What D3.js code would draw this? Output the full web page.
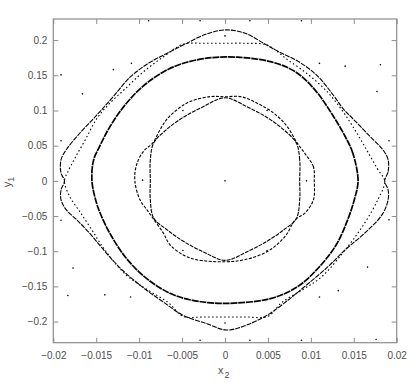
<!DOCTYPE html>
<html>
<head>
<meta charset="utf-8">
<script src="https://cdn.jsdelivr.net/npm/d3@7"></script>
<style>
  body { margin: 0; background: #fff; }
  svg { display: block; }
  .tick text { font-family: "Liberation Sans", Arial, sans-serif; font-size: 10px; fill: #4d4d4d; }
  .tick line { stroke: #8c8c8c; }
  .title { font-family: "Liberation Sans", Arial, sans-serif; font-size: 11px; fill: #4d4d4d; }
</style>
</head>
<body>
<svg id="chart" width="409" height="382"></svg>
<script>
;(function (window, d3) {
  'use strict';

  // tick values
  var xTicks = [-0.02, -0.015, -0.01, -0.005, 0, 0.005, 0.01, 0.015, 0.02];
  var yTicks = [-0.2, -0.15, -0.1, -0.05, 0, 0.05, 0.1, 0.15, 0.2];

  // middle ring (dense orbit)
  var ringC = [
    [0.0155, 0], [0.0149, 0.039], [0.0140, 0.063], [0.0124, 0.096], [0.0105, 0.129],
    [0.0082, 0.155], [0.0054, 0.169], [0.0015, 0.1757], [-0.0023, 0.174], [-0.0060, 0.162],
    [-0.0091, 0.139], [-0.0115, 0.110], [-0.0134, 0.077], [-0.0146, 0.049], [-0.0153, 0.030],
    [-0.0155, 0], [-0.0150, -0.030], [-0.0144, -0.050], [-0.0133, -0.077], [-0.0115, -0.110],
    [-0.0090, -0.140], [-0.0058, -0.163], [-0.0020, -0.173], [0.0015, -0.1735], [0.0054, -0.167],
    [0.0085, -0.150], [0.0110, -0.122], [0.0130, -0.090], [0.0143, -0.055], [0.0151, -0.025]
  ];

  // outer wavy orbit
  var outerD = [
    [0.0186, 0], [0.0190, 0.013], [0.0190, 0.030], [0.0184, 0.044], [0.0169, 0.063],
    [0.0150, 0.087], [0.0138, 0.102], [0.0126, 0.122], [0.0107, 0.150], [0.0085, 0.170],
    [0.0065, 0.182], [0.0047, 0.194], [0.0025, 0.209], [0.0002, 0.2145], [-0.0021, 0.209],
    [-0.0047, 0.194], [-0.0068, 0.181], [-0.0088, 0.168], [-0.0110, 0.148], [-0.0130, 0.120],
    [-0.0143, 0.102], [-0.0155, 0.086], [-0.0169, 0.068], [-0.0185, 0.044], [-0.0191, 0.030],
    [-0.0191, 0.011], [-0.0187, 0], [-0.0191, -0.013], [-0.0191, -0.027], [-0.0185, -0.041],
    [-0.0173, -0.055], [-0.0158, -0.074], [-0.0140, -0.100], [-0.0122, -0.124], [-0.0095, -0.152],
    [-0.0072, -0.172], [-0.0049, -0.191], [-0.0021, -0.203], [0.0002, -0.212], [0.0025, -0.205],
    [0.0049, -0.191], [0.0074, -0.169], [0.0093, -0.150], [0.0120, -0.122], [0.0140, -0.098],
    [0.0163, -0.074], [0.0183, -0.048], [0.0190, -0.027], [0.0190, -0.013]
  ];

  // outer sparse orbit (flat top / bottom)
  var outerE = [
    [0.0186, 0], [0.0178, 0.016], [0.0165, 0.044], [0.0150, 0.075], [0.0136, 0.101],
    [0.0118, 0.128], [0.0097, 0.151], [0.0073, 0.172], [0.0049, 0.193], [0.0025, 0.1955],
    [0, 0.1955], [-0.0025, 0.1955], [-0.0049, 0.194], [-0.0072, 0.176], [-0.0096, 0.154],
    [-0.0117, 0.130], [-0.0136, 0.108], [-0.0149, 0.089], [-0.0162, 0.060], [-0.0174, 0.034],
    [-0.0183, 0.013], [-0.0187, 0], [-0.0181, -0.022], [-0.0169, -0.044], [-0.0155, -0.070],
    [-0.0140, -0.098], [-0.0115, -0.134], [-0.0090, -0.155], [-0.0066, -0.173], [-0.0049, -0.1925],
    [-0.0025, -0.1935], [0, -0.1935], [0.0025, -0.1935], [0.0050, -0.1925], [0.0066, -0.173],
    [0.0090, -0.155], [0.0113, -0.136], [0.0140, -0.098], [0.0160, -0.065], [0.0178, -0.027]
  ];

  // inner round orbit
  var innerA = [
    [0.0104, 0], [0.0103, 0.020], [0.0093, 0.039], [0.0084, 0.054], [0.0072, 0.078],
    [0.0056, 0.097], [0.0038, 0.110], [0.0019, 0.1195], [0, 0.1195], [-0.0017, 0.1197],
    [-0.0041, 0.1126], [-0.0056, 0.101], [-0.0068, 0.087], [-0.0076, 0.072], [-0.0084, 0.054],
    [-0.0095, 0.042], [-0.0103, 0.023], [-0.0105, 0], [-0.0099, -0.027], [-0.0091, -0.041],
    [-0.0084, -0.053], [-0.0072, -0.074], [-0.0064, -0.091], [-0.0049, -0.105], [-0.0033, -0.112],
    [0, -0.115], [0.0023, -0.112], [0.0050, -0.100], [0.0070, -0.079], [0.0082, -0.055],
    [0.0093, -0.046], [0.0103, -0.027]
  ];

  // inner pointed orbit
  var innerB = [
    [0.0087, 0], [0.0087, 0.030], [0.0083, 0.054], [0.0068, 0.073], [0.0049, 0.090],
    [0.0026, 0.105], [0, 0.118], [-0.0026, 0.105], [-0.0049, 0.090], [-0.0068, 0.073],
    [-0.0083, 0.054], [-0.0087, 0.030], [-0.0087, 0], [-0.0087, -0.027], [-0.0083, -0.053],
    [-0.0067, -0.070], [-0.0047, -0.087], [-0.0025, -0.101], [0, -0.113], [0.0027, -0.100],
    [0.0050, -0.085], [0.0068, -0.070], [0.0083, -0.054], [0.0087, -0.027]
  ];

  // stray points
  var stray = [
    [-0.0191, 0.1506], [-0.0166, 0.1236], [-0.0130, 0.158], [-0.0109, 0.167], [-0.0191, 0.057],
    [-0.0096, 0.001], [-0.0049, 0.100], [0.0110, 0.167], [0.0140, 0.163], [0.0181, 0.165],
    [0.0177, 0.127], [0.0191, 0.057], [0, 0], [0.0095, 0.0], [0.0049, 0.100],
    [-0.0191, -0.056], [-0.0177, -0.124], [-0.0183, -0.163], [-0.0140, -0.162], [-0.0110, -0.165],
    [-0.0049, -0.099], [0.0049, -0.099], [0.0166, -0.1226], [0.0132, -0.156], [0.0110, -0.165],
    [0.0191, -0.0554], [0, -0.202], [0, 0.206], [-0.0089, 0.2275], [-0.0029, 0.2275],
    [0.0029, 0.2275], [0.0089, 0.2275], [-0.0029, -0.2265], [0.0029, -0.2265], [0.0089, -0.2265],
    [0.0176, -0.2255]
  ];

  var left = 53.3, right = 396.7, top = 19, bottom = 342.7;

  var x = d3.scaleLinear().domain([-0.02, 0.02]).range([left, right]);
  var y = d3.scaleLinear().domain([-0.23, 0.23]).range([bottom, top]);

  var svg = d3.select("#chart");

  var fmt = function (d) { return d3.format("")(+d.toFixed(3)); };

  // axes, ticks pointing inward on all four sides
  svg.append("g")
    .attr("transform", "translate(0," + bottom + ")")
    .call(d3.axisBottom(x).tickValues(xTicks).tickSizeInner(-5).tickSizeOuter(0).tickPadding(9).tickFormat(fmt));
  svg.append("g")
    .attr("transform", "translate(0," + top + ")")
    .call(d3.axisTop(x).tickValues(xTicks).tickSizeInner(-5).tickSizeOuter(0).tickFormat(""));
  svg.append("g")
    .attr("transform", "translate(" + left + ",0)")
    .call(d3.axisLeft(y).tickValues(yTicks).tickSizeInner(-5).tickSizeOuter(0).tickPadding(6).tickFormat(fmt));
  svg.append("g")
    .attr("transform", "translate(" + right + ",0)")
    .call(d3.axisRight(y).tickValues(yTicks).tickSizeInner(-5).tickSizeOuter(0).tickFormat(""));

  svg.selectAll(".domain").remove();

  svg.append("rect")
    .attr("x", left).attr("y", top)
    .attr("width", right - left).attr("height", bottom - top)
    .attr("fill", "none").attr("stroke", "#8c8c8c").attr("stroke-width", 1.2);

  var line = d3.line()
    .x(function (d) { return x(d[0]); })
    .y(function (d) { return y(d[1]); })
    .curve(d3.curveCatmullRomClosed.alpha(0.5));

  var orbits = [
    {pts: ringC, w: 1.7, dash: "7,0.8"},
    {pts: outerD, w: 1.1, dash: "5,1"},
    {pts: outerE, w: 1.1, dash: "1.5,2.5"},
    {pts: innerA, w: 1.1, dash: "3,1.5"},
    {pts: innerB, w: 1.1, dash: "4,1"}
  ];

  svg.append("g").attr("class", "orbits")
    .selectAll("path").data(orbits)
    .enter().append("path")
    .attr("d", function (d) { return line(d.pts); })
    .attr("fill", "none")
    .attr("stroke", "#000")
    .attr("stroke-width", function (d) { return d.w; })
    .attr("stroke-dasharray", function (d) { return d.dash; });

  svg.append("g").attr("class", "stray")
    .selectAll("circle").data(stray)
    .enter().append("circle")
    .attr("cx", function (d) { return x(d[0]); })
    .attr("cy", function (d) { return y(d[1]); })
    .attr("r", 0.8)
    .attr("fill", "#000");

  // axis titles
  var yl = svg.append("text").attr("class", "title")
    .attr("transform", "translate(11,182) rotate(-90)")
    .attr("text-anchor", "middle");
  yl.append("tspan").text("y");
  yl.append("tspan").attr("dy", 3).attr("font-size", "9px").text("1");

  var xl = svg.append("text").attr("class", "title")
    .attr("x", 218).attr("y", 374);
  xl.append("tspan").text("x");
  xl.append("tspan").attr("dx", 1).attr("dy", 4).attr("font-size", "9px").text("2");

})(window, window.d3);
</script>
</body>
</html>
